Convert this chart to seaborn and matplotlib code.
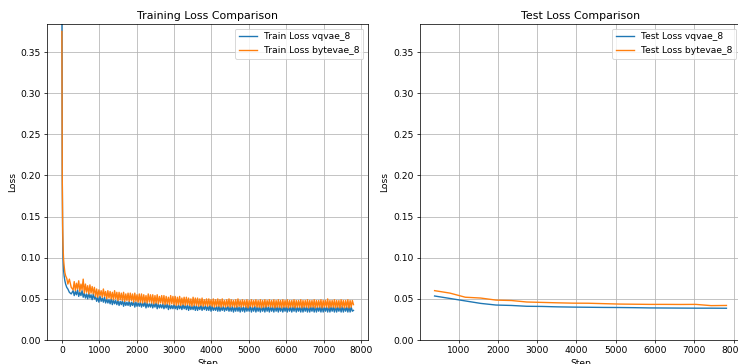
import numpy as np
import seaborn as sns
import matplotlib
matplotlib.use("agg")
import matplotlib.pyplot as plt

# training steps: dense at the start, then every 30 steps
train_steps = [0, 5, 10, 20, 30, 45, 60, 80, 100, 130, 160, 200, 250] + list(range(300, 7801, 30))

train_vqvae = [
    0.42, 0.30, 0.20, 0.13, 0.10, 0.085, 0.078, 0.072, 0.068, 0.064, 0.062, 0.058, 0.056,
    0.060, 0.054, 0.059, 0.055, 0.061, 0.053, 0.058, 0.054, 0.060, 0.052,
    0.057, 0.051, 0.056, 0.050, 0.057, 0.051, 0.055, 0.049, 0.056, 0.050,
    0.053, 0.047, 0.052, 0.046, 0.053, 0.047, 0.051, 0.046, 0.052, 0.045,
    0.050, 0.045, 0.049, 0.044, 0.050, 0.043, 0.049, 0.044, 0.048, 0.043,
    0.048, 0.042, 0.047, 0.043, 0.048, 0.041, 0.047, 0.042, 0.046, 0.042,
    0.047, 0.041, 0.046, 0.042, 0.047, 0.040, 0.046, 0.041, 0.045, 0.041,
    0.046, 0.040, 0.045, 0.041, 0.046, 0.039, 0.045, 0.040, 0.044, 0.040,
    0.045, 0.039, 0.044, 0.040, 0.045, 0.038, 0.044, 0.039, 0.043, 0.039,
    0.044, 0.038, 0.043, 0.039, 0.044, 0.037, 0.043, 0.038, 0.042, 0.038,
    0.043, 0.038, 0.042, 0.037, 0.043, 0.038, 0.042, 0.037, 0.043, 0.038,
    0.042, 0.037, 0.043, 0.036, 0.042, 0.037, 0.041, 0.037, 0.042, 0.036,
    0.042, 0.036, 0.041, 0.037, 0.042, 0.036, 0.041, 0.037, 0.042, 0.036,
    0.041, 0.036, 0.042, 0.035, 0.041, 0.036, 0.040, 0.036, 0.041, 0.035,
    0.041, 0.035, 0.040, 0.036, 0.041, 0.035, 0.040, 0.036, 0.041, 0.035,
    0.040, 0.035, 0.041, 0.034, 0.040, 0.035, 0.041, 0.035, 0.040, 0.034,
    0.041, 0.035, 0.040, 0.034, 0.041, 0.035, 0.040, 0.035, 0.041, 0.034,
    0.040, 0.035, 0.041, 0.034, 0.040, 0.035, 0.040, 0.034, 0.041, 0.035,
    0.040, 0.034, 0.041, 0.035, 0.040, 0.034, 0.041, 0.035, 0.040, 0.034,
    0.041, 0.035, 0.040, 0.034, 0.041, 0.035, 0.040, 0.034, 0.040, 0.035,
    0.040, 0.034, 0.041, 0.035, 0.040, 0.034, 0.040, 0.035, 0.041, 0.034,
    0.040, 0.035, 0.040, 0.034, 0.041, 0.034, 0.040, 0.035, 0.040, 0.034,
    0.041, 0.034, 0.040, 0.035, 0.040, 0.034, 0.041, 0.034, 0.040, 0.035,
    0.040, 0.034, 0.041, 0.034, 0.040, 0.035, 0.040, 0.034, 0.041, 0.034,
    0.040, 0.035, 0.040, 0.034, 0.041, 0.034, 0.040, 0.035, 0.040, 0.034,
    0.041, 0.034, 0.040, 0.035, 0.040, 0.034, 0.041, 0.034, 0.040, 0.035,
    0.036,
]

train_bytevae = [
    0.375, 0.29, 0.20, 0.14, 0.115, 0.098, 0.090, 0.082, 0.078, 0.075, 0.068, 0.074, 0.064,
    0.061, 0.071, 0.060, 0.069, 0.062, 0.072, 0.059, 0.068, 0.061, 0.074,
    0.057, 0.068, 0.058, 0.066, 0.056, 0.067, 0.057, 0.065, 0.056, 0.064,
    0.053, 0.062, 0.052, 0.061, 0.054, 0.060, 0.052, 0.062, 0.053, 0.059,
    0.050, 0.060, 0.051, 0.059, 0.050, 0.058, 0.049, 0.060, 0.050, 0.058,
    0.048, 0.058, 0.049, 0.057, 0.048, 0.058, 0.047, 0.056, 0.048, 0.057,
    0.047, 0.057, 0.048, 0.056, 0.046, 0.057, 0.047, 0.055, 0.046, 0.056,
    0.046, 0.056, 0.045, 0.055, 0.046, 0.054, 0.045, 0.056, 0.046, 0.055,
    0.045, 0.055, 0.044, 0.054, 0.045, 0.055, 0.044, 0.053, 0.045, 0.054,
    0.044, 0.054, 0.043, 0.053, 0.044, 0.052, 0.043, 0.054, 0.044, 0.053,
    0.043, 0.053, 0.042, 0.052, 0.043, 0.053, 0.042, 0.051, 0.043, 0.052,
    0.042, 0.052, 0.043, 0.051, 0.042, 0.050, 0.041, 0.052, 0.042, 0.051,
    0.042, 0.051, 0.041, 0.050, 0.042, 0.051, 0.041, 0.049, 0.042, 0.050,
    0.041, 0.050, 0.042, 0.049, 0.041, 0.050, 0.040, 0.049, 0.041, 0.050,
    0.041, 0.049, 0.040, 0.050, 0.041, 0.048, 0.040, 0.049, 0.041, 0.050,
    0.040, 0.049, 0.041, 0.048, 0.040, 0.049, 0.040, 0.050, 0.041, 0.048,
    0.040, 0.049, 0.041, 0.048, 0.040, 0.049, 0.039, 0.048, 0.041, 0.049,
    0.040, 0.048, 0.041, 0.049, 0.040, 0.048, 0.040, 0.049, 0.039, 0.048,
    0.040, 0.049, 0.040, 0.048, 0.041, 0.049, 0.040, 0.048, 0.040, 0.049,
    0.039, 0.048, 0.040, 0.049, 0.040, 0.048, 0.039, 0.049, 0.040, 0.048,
    0.040, 0.049, 0.039, 0.048, 0.040, 0.048, 0.040, 0.049, 0.039, 0.048,
    0.040, 0.048, 0.040, 0.049, 0.039, 0.048, 0.040, 0.048, 0.040, 0.049,
    0.039, 0.048, 0.040, 0.048, 0.040, 0.049, 0.039, 0.048, 0.040, 0.048,
    0.040, 0.049, 0.039, 0.048, 0.040, 0.048, 0.040, 0.050, 0.039, 0.048,
    0.040, 0.048, 0.040, 0.049, 0.039, 0.048, 0.040, 0.048, 0.039, 0.049,
    0.040, 0.048, 0.039, 0.048, 0.040, 0.049, 0.039, 0.048, 0.040, 0.048,
    0.043,
]

# test loss evaluated once per epoch (391 steps)
test_steps = [391, 782, 1173, 1564, 1955, 2346, 2737, 3128, 3519, 3910,
              4301, 4692, 5083, 5474, 5865, 6256, 6647, 7038, 7429, 7820]
test_vqvae = [0.0535, 0.0505, 0.0475, 0.0445, 0.0425, 0.0420, 0.0410, 0.0408, 0.0403, 0.0400,
              0.0398, 0.0396, 0.0395, 0.0393, 0.0390, 0.0389, 0.0388, 0.0387, 0.0387, 0.0386]
test_bytevae = [0.0600, 0.0570, 0.0520, 0.0510, 0.0485, 0.0480, 0.0462, 0.0457, 0.0452, 0.0448,
                0.0447, 0.0442, 0.0437, 0.0435, 0.0433, 0.0433, 0.0432, 0.0433, 0.0418, 0.0420]

y_top = 0.384

fig = plt.figure(figsize=(738 / 66, 364 / 66), dpi=66)
ax1 = fig.add_axes([0.0641, 0.0659, 0.4346, 0.868])
ax2 = fig.add_axes([0.5691, 0.0659, 0.435, 0.868])

sns.lineplot(x=train_steps, y=train_vqvae, ax=ax1, label="Train Loss vqvae_8", color="tab:blue")
sns.lineplot(x=train_steps, y=train_bytevae, ax=ax1, label="Train Loss bytevae_8", color="tab:orange")
ax1.set_title("Training Loss Comparison")
ax1.set_xlabel("Step")
ax1.set_ylabel("Loss")
ax1.set_ylim(0, y_top)
ax1.legend(loc="upper right")
ax1.grid(True)

sns.lineplot(x=test_steps, y=test_vqvae, ax=ax2, label="Test Loss vqvae_8", color="tab:blue")
sns.lineplot(x=test_steps, y=test_bytevae, ax=ax2, label="Test Loss bytevae_8", color="tab:orange")
ax2.set_title("Test Loss Comparison")
ax2.set_xlabel("Step")
ax2.set_ylabel("Loss")
ax2.set_ylim(0, y_top)
ax2.legend(loc="upper right")
ax2.grid(True)

fig.savefig("out.png", dpi=66)
